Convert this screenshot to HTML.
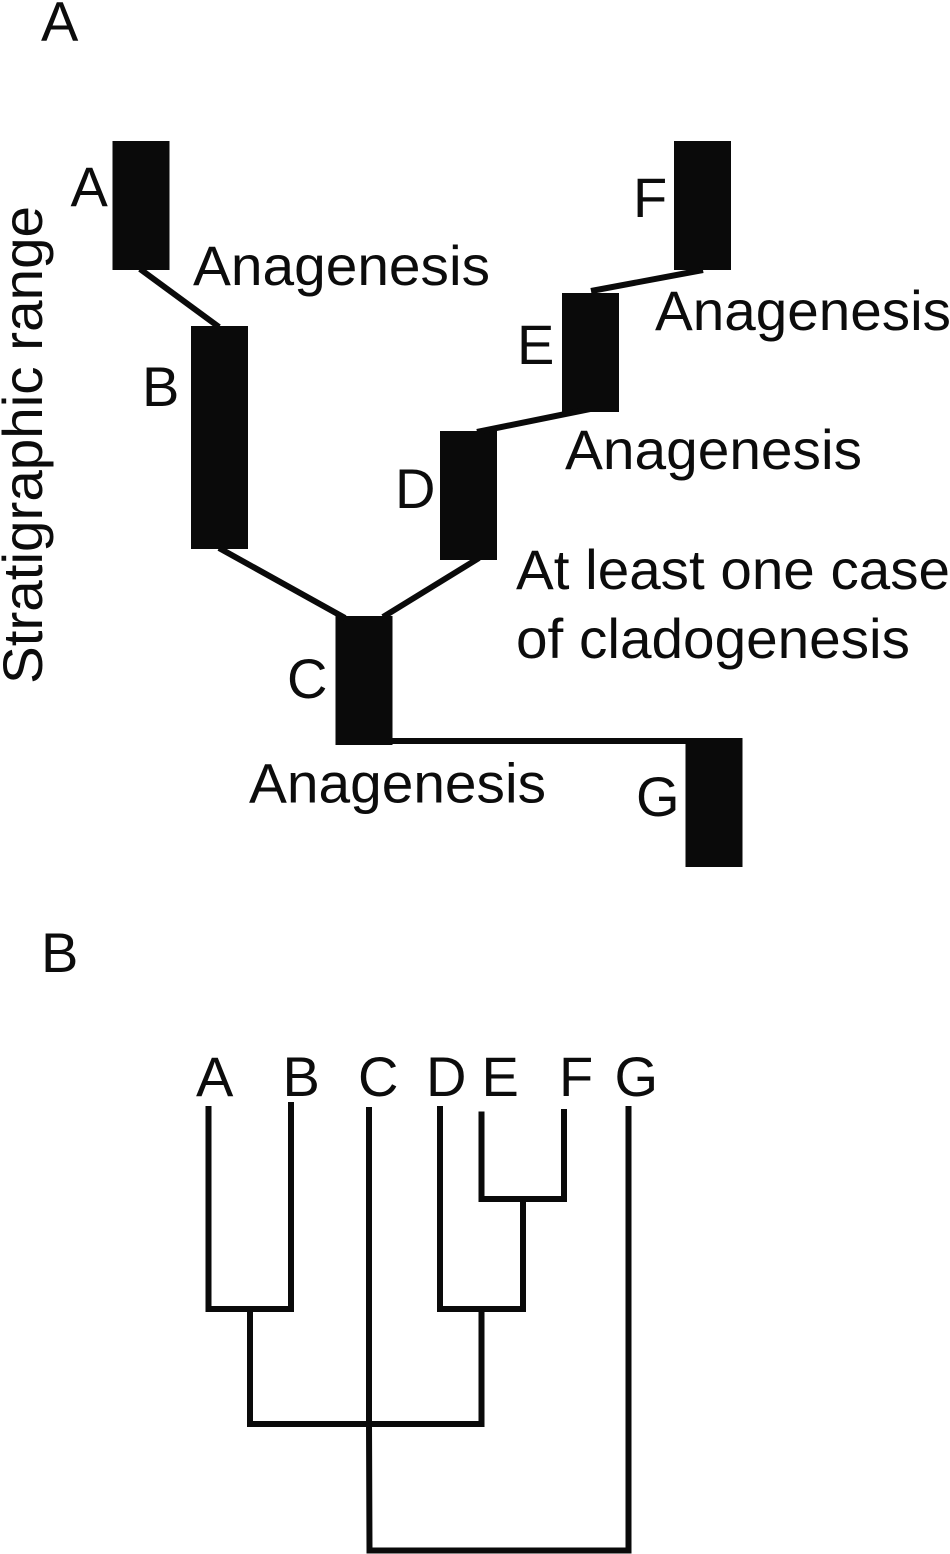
<!DOCTYPE html>
<html>
<head>
<meta charset="utf-8">
<style>
html,body{margin:0;padding:0;background:#fff;}
svg{display:block;}
text{font-family:"Liberation Sans",Arial,sans-serif;fill:#0c0c0c;}
</style>
</head>
<body>
<svg width="950" height="1554" viewBox="0 0 950 1554" xmlns="http://www.w3.org/2000/svg">
<g fill="#0a0a0a">
<rect x="112.500" y="141" width="57" height="129"/>
<rect x="191" y="326" width="57" height="223"/>
<rect x="335.500" y="616" width="57" height="129"/>
<rect x="440" y="431" width="57" height="129"/>
<rect x="562" y="293" width="57" height="119"/>
<rect x="674" y="141" width="57" height="129"/>
<rect x="685.500" y="738" width="57" height="129"/>
</g>
<g stroke="#0a0a0a" stroke-width="6" fill="none">
<line x1="140" y1="269" x2="219" y2="327"/>
<line x1="219" y1="548" x2="345" y2="618"/>
<line x1="383" y1="617" x2="479" y2="558"/>
<line x1="477" y1="432" x2="590" y2="409"/>
<line x1="591" y1="291" x2="703" y2="270"/>
<line x1="390" y1="741" x2="688" y2="741"/>
<polyline points="208.500,1106 208.500,1309 291,1309 291,1102"/>
<polyline points="250,1309 250,1424 481.500,1424 481.500,1309"/>
<polyline points="440,1106 440,1309 523,1309 523,1199"/>
<polyline points="481.500,1111.500 481.500,1199 564,1199 564,1109"/>
<polyline points="369,1107 369,1424 369.500,1550.500 628.500,1550.500 628.500,1106"/>
</g>
<g font-size="56">
<text x="41" y="40.500">A</text>
<text x="70.500" y="206">A</text>
<text x="142" y="406">B</text>
<text x="287" y="698">C</text>
<text x="395" y="508">D</text>
<text x="517" y="364">E</text>
<text x="633" y="217">F</text>
<text x="636" y="816">G</text>
<text x="41" y="972">B</text>
<text x="196" y="1096">A</text>
<text x="282.500" y="1096">B</text>
<text x="358" y="1096">C</text>
<text x="426" y="1096">D</text>
<text x="481.500" y="1096">E</text>
<text x="559" y="1096">F</text>
<text x="614.500" y="1096">G</text>
<text x="193" y="285" textLength="297" lengthAdjust="spacingAndGlyphs">Anagenesis</text>
<text x="655" y="330" textLength="296" lengthAdjust="spacingAndGlyphs">Anagenesis</text>
<text x="565" y="469" textLength="297" lengthAdjust="spacingAndGlyphs">Anagenesis</text>
<text x="249" y="802.500" textLength="297" lengthAdjust="spacingAndGlyphs">Anagenesis</text>
<text x="516" y="589" textLength="434" lengthAdjust="spacingAndGlyphs">At least one case</text>
<text x="516" y="658" textLength="394" lengthAdjust="spacingAndGlyphs">of cladogenesis</text>
<text transform="translate(42,684) rotate(-90)" textLength="478" lengthAdjust="spacingAndGlyphs">Stratigraphic range</text>
</g>
</svg>
</body>
</html>
